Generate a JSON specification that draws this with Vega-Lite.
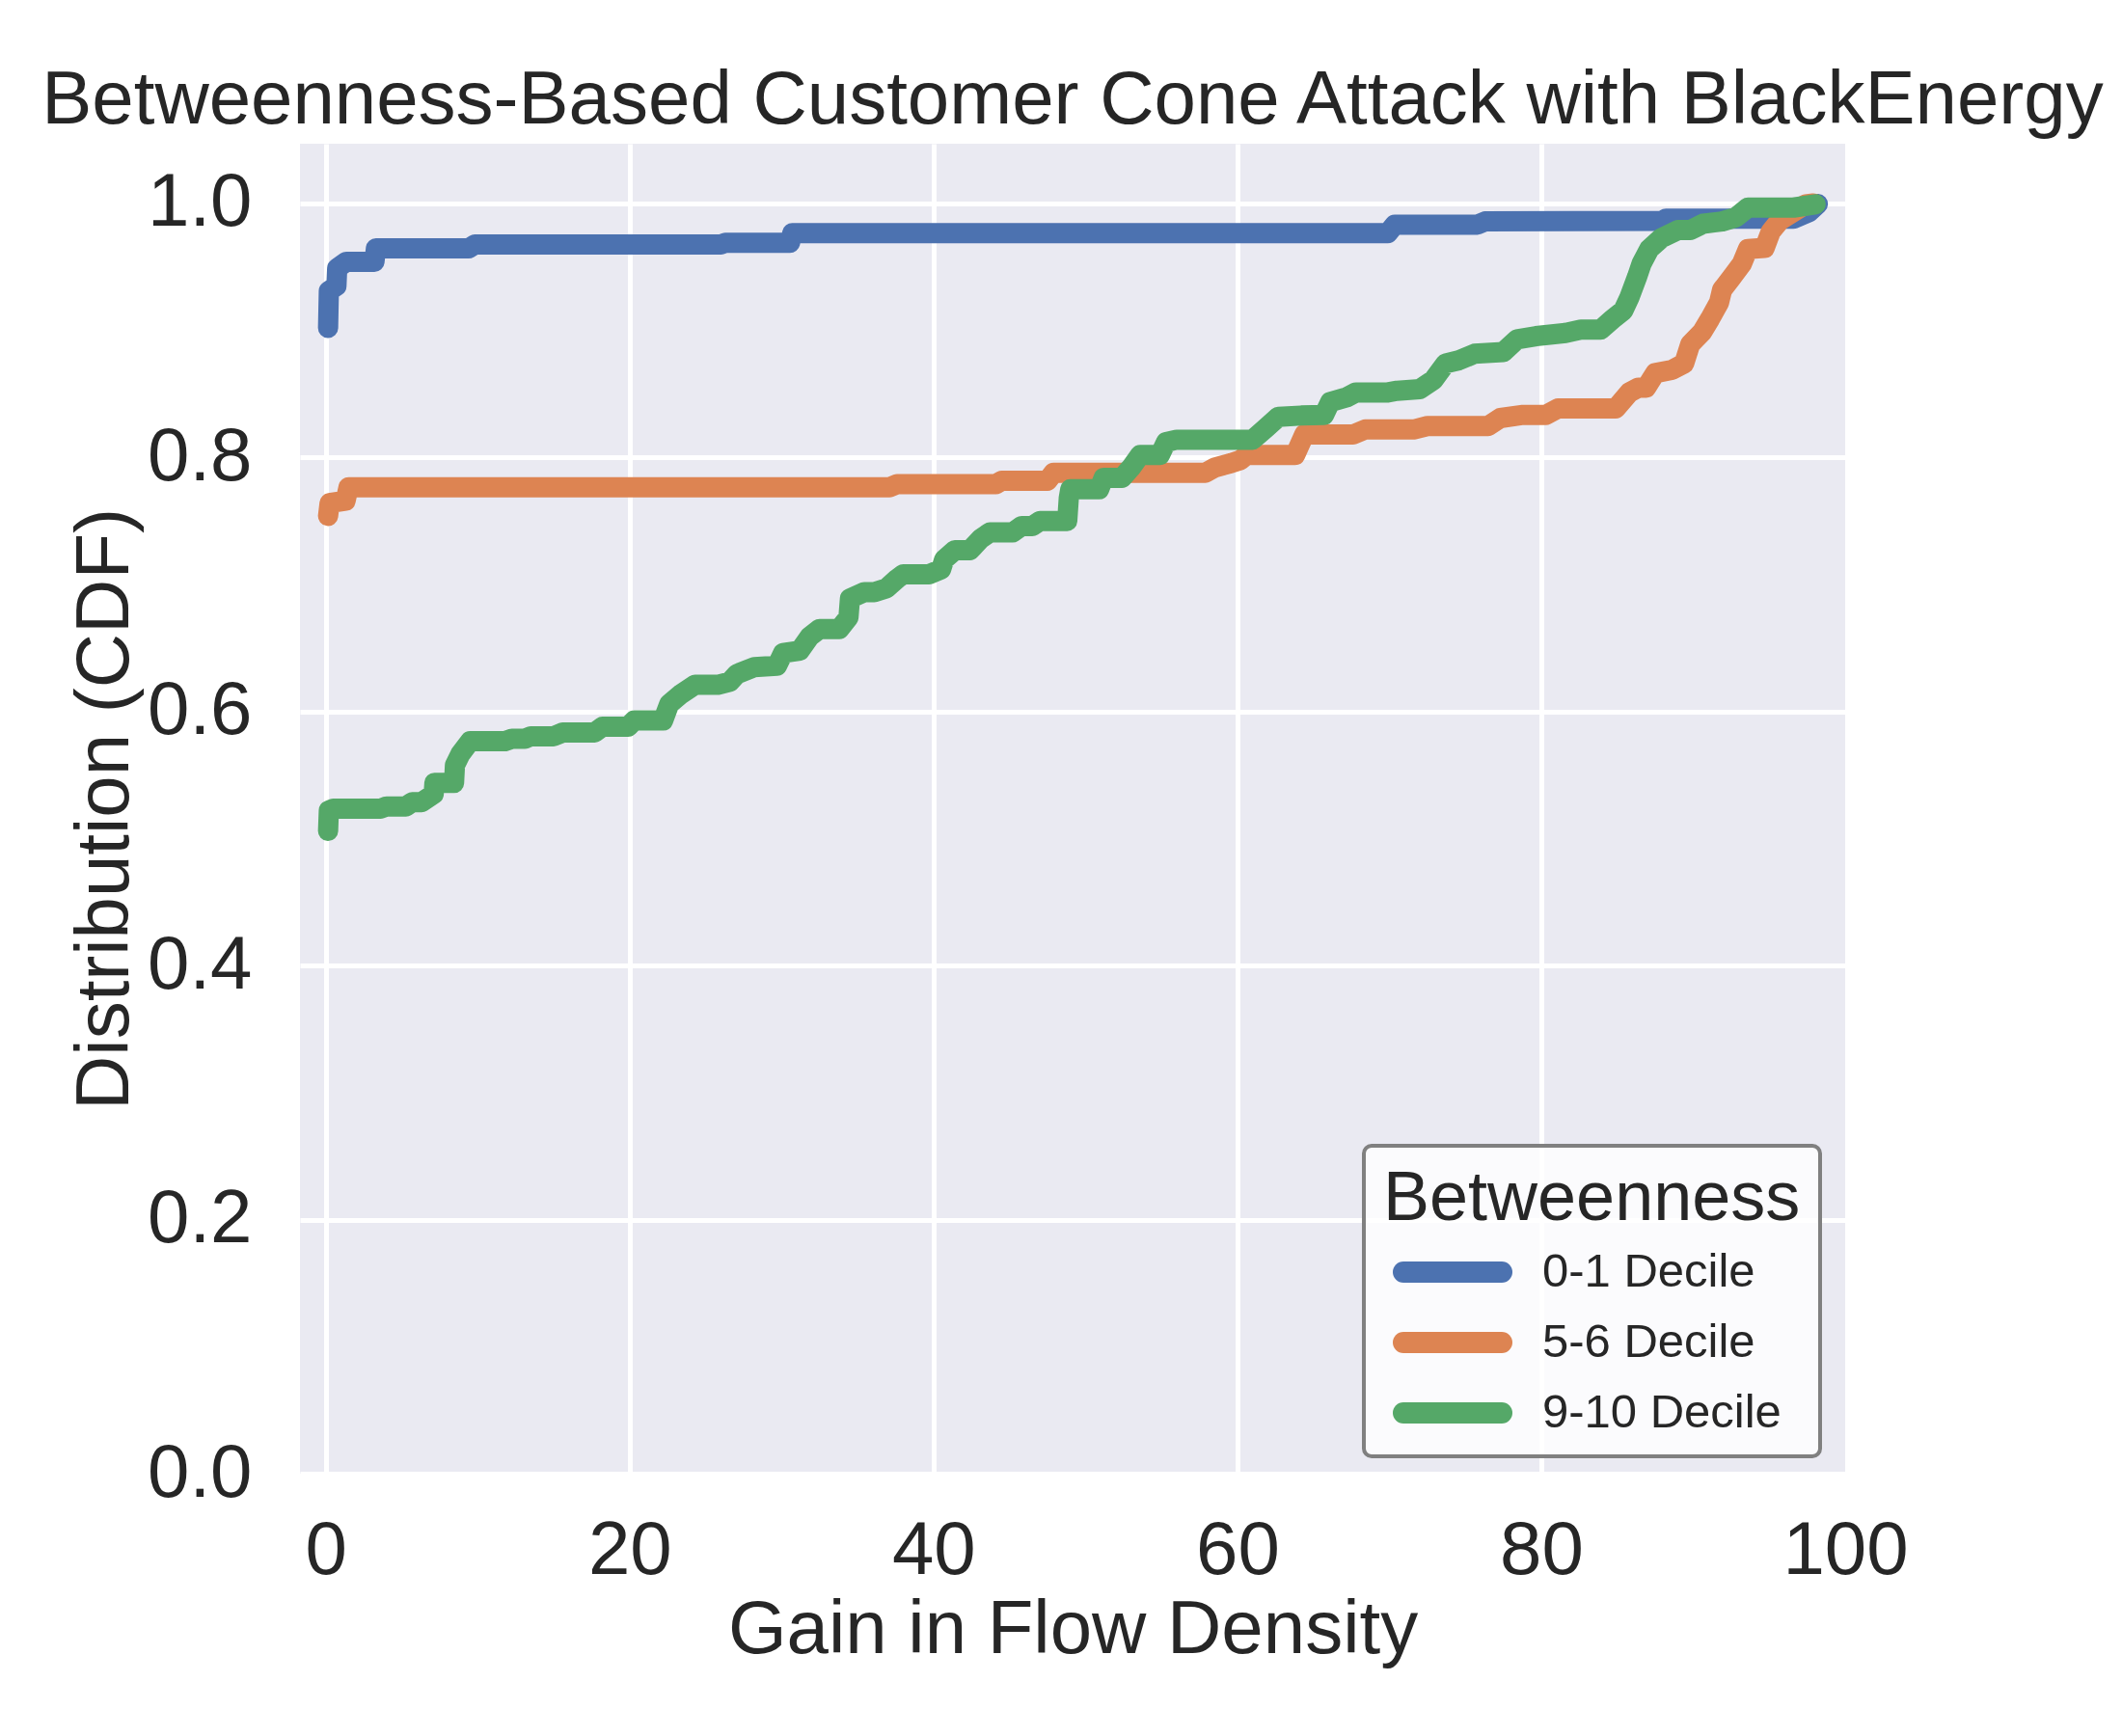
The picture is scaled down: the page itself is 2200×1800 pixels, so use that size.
{
  "$schema": "https://vega.github.io/schema/vega-lite/v6.json",
  "width": 1602,
  "height": 1379,
  "autosize": {"type": "none"},
  "padding": {"left": 311, "top": 149, "right": 287, "bottom": 272},
  "background": "white",
  "title": {
    "text": "Betweenness-Based Customer Cone Attack with BlackEnergy",
    "anchor": "middle",
    "baseline": "alphabetic",
    "offset": -57,
    "fontSize": 78,
    "fontWeight": "normal",
    "font": "Liberation Sans",
    "color": "#262626"
  },
  "data": {
    "values": [
      {"series": "0-1 Decile", "x": 0.15, "y": 0.902},
      {"series": "0-1 Decile", "x": 0.2, "y": 0.931},
      {"series": "0-1 Decile", "x": 0.7, "y": 0.935},
      {"series": "0-1 Decile", "x": 0.75, "y": 0.949},
      {"series": "0-1 Decile", "x": 1.35, "y": 0.954},
      {"series": "0-1 Decile", "x": 3.2, "y": 0.954},
      {"series": "0-1 Decile", "x": 3.3, "y": 0.9646},
      {"series": "0-1 Decile", "x": 9.4, "y": 0.9646},
      {"series": "0-1 Decile", "x": 9.8, "y": 0.9676},
      {"series": "0-1 Decile", "x": 26.0, "y": 0.9676},
      {"series": "0-1 Decile", "x": 26.3, "y": 0.969},
      {"series": "0-1 Decile", "x": 30.55, "y": 0.969},
      {"series": "0-1 Decile", "x": 30.7, "y": 0.9765},
      {"series": "0-1 Decile", "x": 69.9, "y": 0.9765},
      {"series": "0-1 Decile", "x": 70.35, "y": 0.9833},
      {"series": "0-1 Decile", "x": 75.8, "y": 0.9833},
      {"series": "0-1 Decile", "x": 76.3, "y": 0.9858},
      {"series": "0-1 Decile", "x": 88.0, "y": 0.9862},
      {"series": "0-1 Decile", "x": 88.2, "y": 0.988},
      {"series": "0-1 Decile", "x": 96.6, "y": 0.988},
      {"series": "0-1 Decile", "x": 97.6, "y": 0.993},
      {"series": "0-1 Decile", "x": 98.2, "y": 0.9995},

      {"series": "5-6 Decile", "x": 0.15, "y": 0.754},
      {"series": "5-6 Decile", "x": 0.25, "y": 0.764},
      {"series": "5-6 Decile", "x": 1.3, "y": 0.766},
      {"series": "5-6 Decile", "x": 1.5, "y": 0.7766},
      {"series": "5-6 Decile", "x": 37.1, "y": 0.7766},
      {"series": "5-6 Decile", "x": 37.6, "y": 0.779},
      {"series": "5-6 Decile", "x": 44.1, "y": 0.779},
      {"series": "5-6 Decile", "x": 44.5, "y": 0.7817},
      {"series": "5-6 Decile", "x": 47.5, "y": 0.7817},
      {"series": "5-6 Decile", "x": 47.9, "y": 0.788},
      {"series": "5-6 Decile", "x": 57.9, "y": 0.788},
      {"series": "5-6 Decile", "x": 58.5, "y": 0.792},
      {"series": "5-6 Decile", "x": 59.6, "y": 0.7956},
      {"series": "5-6 Decile", "x": 60.2, "y": 0.798},
      {"series": "5-6 Decile", "x": 60.6, "y": 0.802},
      {"series": "5-6 Decile", "x": 63.8, "y": 0.802},
      {"series": "5-6 Decile", "x": 64.4, "y": 0.818},
      {"series": "5-6 Decile", "x": 67.6, "y": 0.818},
      {"series": "5-6 Decile", "x": 68.4, "y": 0.822},
      {"series": "5-6 Decile", "x": 71.6, "y": 0.822},
      {"series": "5-6 Decile", "x": 72.5, "y": 0.8247},
      {"series": "5-6 Decile", "x": 76.5, "y": 0.8247},
      {"series": "5-6 Decile", "x": 77.3, "y": 0.831},
      {"series": "5-6 Decile", "x": 78.8, "y": 0.8335},
      {"series": "5-6 Decile", "x": 80.3, "y": 0.8335},
      {"series": "5-6 Decile", "x": 81.1, "y": 0.8386},
      {"series": "5-6 Decile", "x": 84.9, "y": 0.8386},
      {"series": "5-6 Decile", "x": 85.8, "y": 0.8512},
      {"series": "5-6 Decile", "x": 86.4, "y": 0.855},
      {"series": "5-6 Decile", "x": 86.9, "y": 0.855},
      {"series": "5-6 Decile", "x": 87.5, "y": 0.8664},
      {"series": "5-6 Decile", "x": 88.6, "y": 0.869},
      {"series": "5-6 Decile", "x": 89.4, "y": 0.874},
      {"series": "5-6 Decile", "x": 89.8, "y": 0.889},
      {"series": "5-6 Decile", "x": 90.6, "y": 0.899},
      {"series": "5-6 Decile", "x": 91.1, "y": 0.909},
      {"series": "5-6 Decile", "x": 91.7, "y": 0.922},
      {"series": "5-6 Decile", "x": 91.9, "y": 0.932},
      {"series": "5-6 Decile", "x": 92.55, "y": 0.942},
      {"series": "5-6 Decile", "x": 93.2, "y": 0.9525},
      {"series": "5-6 Decile", "x": 93.6, "y": 0.964},
      {"series": "5-6 Decile", "x": 94.7, "y": 0.965},
      {"series": "5-6 Decile", "x": 95.1, "y": 0.9777},
      {"series": "5-6 Decile", "x": 95.7, "y": 0.9866},
      {"series": "5-6 Decile", "x": 96.15, "y": 0.99},
      {"series": "5-6 Decile", "x": 97.4, "y": 0.9993},
      {"series": "5-6 Decile", "x": 97.9, "y": 1.0},

      {"series": "9-10 Decile", "x": 0.15, "y": 0.506},
      {"series": "9-10 Decile", "x": 0.2, "y": 0.522},
      {"series": "9-10 Decile", "x": 0.5, "y": 0.5235},
      {"series": "9-10 Decile", "x": 3.6, "y": 0.5235},
      {"series": "9-10 Decile", "x": 4.0, "y": 0.5253},
      {"series": "9-10 Decile", "x": 5.27, "y": 0.5253},
      {"series": "9-10 Decile", "x": 5.69, "y": 0.5286},
      {"series": "9-10 Decile", "x": 6.3, "y": 0.5286},
      {"series": "9-10 Decile", "x": 7.1, "y": 0.535},
      {"series": "9-10 Decile", "x": 7.15, "y": 0.5438},
      {"series": "9-10 Decile", "x": 8.44, "y": 0.5438},
      {"series": "9-10 Decile", "x": 8.5, "y": 0.5577},
      {"series": "9-10 Decile", "x": 8.86, "y": 0.5665},
      {"series": "9-10 Decile", "x": 9.5, "y": 0.5767},
      {"series": "9-10 Decile", "x": 11.8, "y": 0.5767},
      {"series": "9-10 Decile", "x": 12.25, "y": 0.5785},
      {"series": "9-10 Decile", "x": 13.1, "y": 0.5785},
      {"series": "9-10 Decile", "x": 13.5, "y": 0.5805},
      {"series": "9-10 Decile", "x": 15.0, "y": 0.5805},
      {"series": "9-10 Decile", "x": 15.6, "y": 0.5835},
      {"series": "9-10 Decile", "x": 17.7, "y": 0.5835},
      {"series": "9-10 Decile", "x": 18.2, "y": 0.588},
      {"series": "9-10 Decile", "x": 19.9, "y": 0.588},
      {"series": "9-10 Decile", "x": 20.3, "y": 0.593},
      {"series": "9-10 Decile", "x": 22.2, "y": 0.593},
      {"series": "9-10 Decile", "x": 22.6, "y": 0.6058},
      {"series": "9-10 Decile", "x": 23.35, "y": 0.6134},
      {"series": "9-10 Decile", "x": 24.3, "y": 0.621},
      {"series": "9-10 Decile", "x": 25.8, "y": 0.621},
      {"series": "9-10 Decile", "x": 26.6, "y": 0.6235},
      {"series": "9-10 Decile", "x": 27.05, "y": 0.6295},
      {"series": "9-10 Decile", "x": 28.2, "y": 0.635},
      {"series": "9-10 Decile", "x": 29.7, "y": 0.636},
      {"series": "9-10 Decile", "x": 30.1, "y": 0.646},
      {"series": "9-10 Decile", "x": 31.2, "y": 0.648},
      {"series": "9-10 Decile", "x": 31.85, "y": 0.659},
      {"series": "9-10 Decile", "x": 32.5, "y": 0.665},
      {"series": "9-10 Decile", "x": 33.8, "y": 0.665},
      {"series": "9-10 Decile", "x": 34.4, "y": 0.674},
      {"series": "9-10 Decile", "x": 34.5, "y": 0.689},
      {"series": "9-10 Decile", "x": 35.45, "y": 0.694},
      {"series": "9-10 Decile", "x": 36.1, "y": 0.694},
      {"series": "9-10 Decile", "x": 36.9, "y": 0.697},
      {"series": "9-10 Decile", "x": 37.6, "y": 0.7045},
      {"series": "9-10 Decile", "x": 38.0, "y": 0.708},
      {"series": "9-10 Decile", "x": 39.7, "y": 0.708},
      {"series": "9-10 Decile", "x": 40.5, "y": 0.712},
      {"series": "9-10 Decile", "x": 40.7, "y": 0.7197},
      {"series": "9-10 Decile", "x": 41.4, "y": 0.727},
      {"series": "9-10 Decile", "x": 42.4, "y": 0.727},
      {"series": "9-10 Decile", "x": 43.1, "y": 0.736},
      {"series": "9-10 Decile", "x": 43.7, "y": 0.741},
      {"series": "9-10 Decile", "x": 45.2, "y": 0.741},
      {"series": "9-10 Decile", "x": 45.8, "y": 0.746},
      {"series": "9-10 Decile", "x": 46.5, "y": 0.746},
      {"series": "9-10 Decile", "x": 47.0, "y": 0.75},
      {"series": "9-10 Decile", "x": 48.8, "y": 0.75},
      {"series": "9-10 Decile", "x": 48.9, "y": 0.768},
      {"series": "9-10 Decile", "x": 49.0, "y": 0.775},
      {"series": "9-10 Decile", "x": 50.9, "y": 0.775},
      {"series": "9-10 Decile", "x": 51.2, "y": 0.784},
      {"series": "9-10 Decile", "x": 52.4, "y": 0.784},
      {"series": "9-10 Decile", "x": 53.0, "y": 0.792},
      {"series": "9-10 Decile", "x": 53.6, "y": 0.802},
      {"series": "9-10 Decile", "x": 54.9, "y": 0.802},
      {"series": "9-10 Decile", "x": 55.3, "y": 0.812},
      {"series": "9-10 Decile", "x": 56.0, "y": 0.814},
      {"series": "9-10 Decile", "x": 61.0, "y": 0.814},
      {"series": "9-10 Decile", "x": 61.9, "y": 0.8234},
      {"series": "9-10 Decile", "x": 62.7, "y": 0.832},
      {"series": "9-10 Decile", "x": 64.2, "y": 0.833},
      {"series": "9-10 Decile", "x": 65.7, "y": 0.8335},
      {"series": "9-10 Decile", "x": 66.1, "y": 0.8436},
      {"series": "9-10 Decile", "x": 67.2, "y": 0.8474},
      {"series": "9-10 Decile", "x": 67.8, "y": 0.8512},
      {"series": "9-10 Decile", "x": 69.9, "y": 0.8512},
      {"series": "9-10 Decile", "x": 70.5, "y": 0.8525},
      {"series": "9-10 Decile", "x": 72.0, "y": 0.8538},
      {"series": "9-10 Decile", "x": 72.9, "y": 0.861},
      {"series": "9-10 Decile", "x": 73.7, "y": 0.874},
      {"series": "9-10 Decile", "x": 74.6, "y": 0.8766},
      {"series": "9-10 Decile", "x": 75.6, "y": 0.8816},
      {"series": "9-10 Decile", "x": 77.5, "y": 0.883},
      {"series": "9-10 Decile", "x": 78.4, "y": 0.893},
      {"series": "9-10 Decile", "x": 79.65, "y": 0.8955},
      {"series": "9-10 Decile", "x": 81.6, "y": 0.898},
      {"series": "9-10 Decile", "x": 82.6, "y": 0.9006},
      {"series": "9-10 Decile", "x": 83.9, "y": 0.9006},
      {"series": "9-10 Decile", "x": 84.7, "y": 0.909},
      {"series": "9-10 Decile", "x": 85.4, "y": 0.9157},
      {"series": "9-10 Decile", "x": 85.8, "y": 0.926},
      {"series": "9-10 Decile", "x": 86.3, "y": 0.942},
      {"series": "9-10 Decile", "x": 86.6, "y": 0.9525},
      {"series": "9-10 Decile", "x": 87.1, "y": 0.964},
      {"series": "9-10 Decile", "x": 87.9, "y": 0.9727},
      {"series": "9-10 Decile", "x": 89.0, "y": 0.979},
      {"series": "9-10 Decile", "x": 89.8, "y": 0.979},
      {"series": "9-10 Decile", "x": 90.65, "y": 0.984},
      {"series": "9-10 Decile", "x": 91.9, "y": 0.9858},
      {"series": "9-10 Decile", "x": 92.8, "y": 0.989},
      {"series": "9-10 Decile", "x": 93.6, "y": 0.9967},
      {"series": "9-10 Decile", "x": 96.6, "y": 0.9967},
      {"series": "9-10 Decile", "x": 98.05, "y": 0.9993}
    ]
  },
  "mark": {
    "type": "line",
    "strokeWidth": 21,
    "strokeCap": "round",
    "strokeJoin": "round",
    "clip": true
  },
  "encoding": {
    "x": {
      "field": "x",
      "type": "quantitative",
      "title": "Gain in Flow Density",
      "scale": {"domain": [-1.7, 100], "nice": false, "zero": false},
      "axis": {
        "values": [0, 20, 40, 60, 80, 100],
        "format": "d",
        "labelPadding": 41,
        "titlePadding": 4,
        "gridOpacity": {"condition": {"test": "datum.value >= 100", "value": 0}, "value": 1}
      }
    },
    "y": {
      "field": "y",
      "type": "quantitative",
      "title": "Distribution (CDF)",
      "scale": {"domain": [0, 1.047], "nice": false},
      "axis": {"values": [0, 0.2, 0.4, 0.6, 0.8, 1.0], "format": ".1f", "labelPadding": 50, "titlePadding": 4}
    },
    "color": {
      "field": "series",
      "type": "nominal",
      "title": "Betweenness",
      "scale": {
        "domain": ["0-1 Decile", "5-6 Decile", "9-10 Decile"],
        "range": ["#4C72B0", "#DD8452", "#55A868"]
      },
      "legend": {
        "orient": "none",
        "legendX": 1103,
        "legendY": 1039,
        "symbolType": "M-3.4,0H3.4",
        "symbolSize": 900,
        "symbolStrokeWidth": 22,
        "symbolOffset": 46,
        "labelOffset": 67,
        "labelLimit": 0,
        "titleLimit": 0,
        "titleBaseline": "top",
        "padding": 20,
        "titlePadding": 13,
        "rowPadding": 22,
        "encode": {
          "symbols": {"update": {"strokeCap": {"value": "round"}, "strokeJoin": {"value": "round"}}}
        }
      }
    }
  },
  "config": {
    "font": "Liberation Sans",
    "view": {"fill": "#EAEAF2", "stroke": null},
    "axis": {
      "domain": false,
      "ticks": false,
      "grid": true,
      "gridColor": "#FFFFFF",
      "gridWidth": 5,
      "labelFont": "Liberation Sans",
      "labelFontSize": 78,
      "labelColor": "#262626",
      "labelFlush": false,
      "labelOverlap": false,
      "titleFont": "Liberation Sans",
      "titleFontSize": 78,
      "titleFontWeight": "normal",
      "titleColor": "#262626"
    },
    "legend": {
      "fillColor": "rgba(255,255,255,0.8)",
      "strokeColor": "#808080",
      "strokeWidth": 4,
      "cornerRadius": 8,
      "titleFont": "Liberation Sans",
      "titleFontSize": 72,
      "titleFontWeight": "normal",
      "titleColor": "#262626",
      "labelFont": "Liberation Sans",
      "labelFontSize": 49,
      "labelColor": "#262626"
    }
  }
}
